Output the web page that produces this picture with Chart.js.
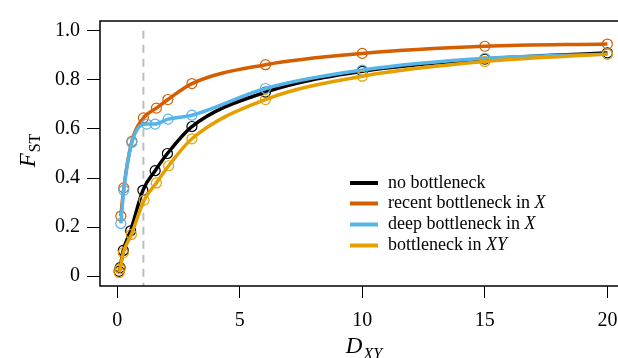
<!DOCTYPE html>
<html>
<head>
<meta charset="utf-8">
<script src="https://cdn.jsdelivr.net/npm/chart.js@4.4.1/dist/chart.umd.min.js"></script>
<style>
    body { margin: 0; overflow: hidden; background: #fff; }
    canvas { display: block; }
</style>
</head>
<body>
<canvas id="fstChart" width="640" height="358"></canvas>
<script>
// axis ticks
const xTicks = [0, 5, 10, 15, 20];
const yTicks = [0, 0.2, 0.4, 0.6, 0.8, 1.0];
const thresholdX = 1.07;

// no bottleneck
const noBottleneckX = [0.08, 0.12, 0.25, 0.55, 1.05, 1.55, 2.05, 3.05, 6.05, 10, 15, 20];
const noBottleneckY = [0.02, 0.035, 0.105, 0.185, 0.35, 0.43, 0.50, 0.61, 0.75, 0.835, 0.885, 0.91];

// recent bottleneck in X
const recentX = [0.15, 0.27, 0.6, 1.07, 1.6, 2.07, 3.05, 6.05, 10, 15, 20];
const recentY = [0.245, 0.36, 0.55, 0.645, 0.685, 0.72, 0.785, 0.862, 0.908, 0.937, 0.946];

// deep bottleneck in X
const deepX = [0.15, 0.27, 0.6, 1.2, 1.55, 2.08, 3.05, 6.05, 10, 15, 20];
const deepY = [0.215, 0.35, 0.545, 0.62, 0.62, 0.64, 0.656, 0.765, 0.84, 0.888, 0.905];

// bottleneck in XY
const bothX = [0.08, 0.12, 0.25, 0.58, 1.1, 1.6, 2.1, 3.05, 6.05, 10, 15, 20];
const bothY = [0.015, 0.03, 0.095, 0.17, 0.31, 0.38, 0.45, 0.56, 0.72, 0.815, 0.875, 0.905];

const seriesNames = [
    ['no bottleneck', ''],
    ['recent bottleneck in ', 'X'],
    ['deep bottleneck in ', 'X'],
    ['bottleneck in ', 'XY']
];
const seriesColors = ['#000000', '#D55E00', '#56B4E9', '#E69F00'];

const serif = '"Liberation Serif", "DejaVu Serif", serif';

function makeSeries(xs, ys, idx) {
    return {
        label: seriesNames[idx].join(''),
        data: xs.map((x, i) => ({ x: x, y: ys[i] })),
        borderColor: seriesColors[idx],
        borderWidth: 3.5,
        cubicInterpolationMode: 'monotone',
        pointRadius: 5,
        pointBorderWidth: 1.2,
        pointBorderColor: seriesColors[idx],
        pointBackgroundColor: 'rgba(0,0,0,0)',
        fill: false,
        // lower order is drawn on top, so the last series ends up on top
        order: 4 - idx
    };
}

// dashed threshold line, frame, legend and axis titles
const decorations = {
    id: 'decorations',
    beforeDatasetsDraw(chart) {
        const { ctx, scales } = chart;
        const x = scales.x.getPixelForValue(thresholdX);
        ctx.save();
        ctx.strokeStyle = '#bdbdbd';
        ctx.lineWidth = 2;
        ctx.setLineDash([8, 6]);
        ctx.beginPath();
        ctx.moveTo(x, scales.y.getPixelForValue(1.0));
        ctx.lineTo(x, chart.chartArea.bottom);
        ctx.stroke();
        ctx.restore();
    },
    afterDraw(chart) {
        const { ctx, chartArea } = chart;
        ctx.save();

        // box
        ctx.strokeStyle = '#000';
        ctx.lineWidth = 1.5;
        ctx.strokeRect(chartArea.left, chartArea.top, chartArea.right - chartArea.left, chartArea.bottom - chartArea.top);

        // legend
        const rows = [183, 203.5, 224.5, 245.5];
        ctx.textBaseline = 'middle';
        seriesNames.forEach((parts, i) => {
            ctx.strokeStyle = seriesColors[i];
            ctx.lineWidth = 4;
            ctx.beginPath();
            ctx.moveTo(350, rows[i]);
            ctx.lineTo(378, rows[i]);
            ctx.stroke();
            ctx.fillStyle = '#000';
            ctx.font = '18px ' + serif;
            ctx.fillText(parts[0], 388, rows[i]);
            if (parts[1]) {
                const w = ctx.measureText(parts[0]).width;
                ctx.font = 'italic 18px ' + serif;
                ctx.fillText(parts[1], 388 + w, rows[i]);
            }
        });

        // x title: D_XY
        ctx.textBaseline = 'alphabetic';
        ctx.fillStyle = '#000';
        ctx.font = 'italic 23px ' + serif;
        const dW = ctx.measureText('D').width;
        ctx.font = 'italic 16px ' + serif;
        const subW = ctx.measureText('XY').width;
        const cx = (chartArea.left + chartArea.right) / 2;
        const startX = cx - (dW + subW) / 2;
        ctx.font = 'italic 23px ' + serif;
        ctx.fillText('D', startX, 353);
        ctx.font = 'italic 16px ' + serif;
        ctx.fillText('XY', startX + dW + 1, 359);

        // y title: F_ST
        ctx.translate(35, 151);
        ctx.rotate(-Math.PI / 2);
        ctx.font = 'italic 23px ' + serif;
        const fW = ctx.measureText('F').width;
        ctx.font = '16px ' + serif;
        const stW = ctx.measureText('ST').width;
        const sy = -(fW + stW) / 2;
        ctx.font = 'italic 23px ' + serif;
        ctx.fillText('F', sy, 0);
        ctx.font = '16px ' + serif;
        ctx.fillText('ST', sy + fW + 1, 5);

        ctx.restore();
    }
};

const ctx = document.getElementById('fstChart').getContext('2d');

new Chart(ctx, {
    type: 'line',
    data: {
        datasets: [
            makeSeries(noBottleneckX, noBottleneckY, 0),
            makeSeries(recentX, recentY, 1),
            makeSeries(deepX, deepY, 2),
            makeSeries(bothX, bothY, 3)
        ]
    },
    options: {
        responsive: false,
        animation: false,
        devicePixelRatio: 1,
        layout: { padding: { top: 21, right: 13, left: 0, bottom: 0 } },
        plugins: {
            legend: { display: false },
            tooltip: { enabled: false }
        },
        scales: {
            x: {
                type: 'linear',
                min: -0.7,
                max: 20.8,
                afterBuildTicks: (scale) => { scale.ticks = xTicks.map(v => ({ value: v })); },
                afterFit: (scale) => { scale.height = 72; },
                border: { display: false },
                grid: { drawOnChartArea: false, drawTicks: true, tickLength: 12, color: '#000', lineWidth: 1 },
                ticks: {
                    color: '#000',
                    autoSkip: false,
                    maxRotation: 0,
                    padding: 11,
                    font: { family: serif, size: 20 },
                    callback: (v) => String(v)
                }
            },
            y: {
                type: 'linear',
                min: -0.04,
                max: 1.04,
                afterBuildTicks: (scale) => { scale.ticks = yTicks.map(v => ({ value: v })); },
                afterFit: (scale) => { scale.width = 100; },
                border: { display: false },
                grid: { drawOnChartArea: false, drawTicks: true, tickLength: 13, color: '#000', lineWidth: 1 },
                ticks: {
                    color: '#000',
                    autoSkip: false,
                    padding: 7,
                    font: { family: serif, size: 20 },
                    callback: (v) => v === 0 ? '0' : v.toFixed(1)
                }
            }
        }
    },
    plugins: [decorations]
});
</script>
</body>
</html>
